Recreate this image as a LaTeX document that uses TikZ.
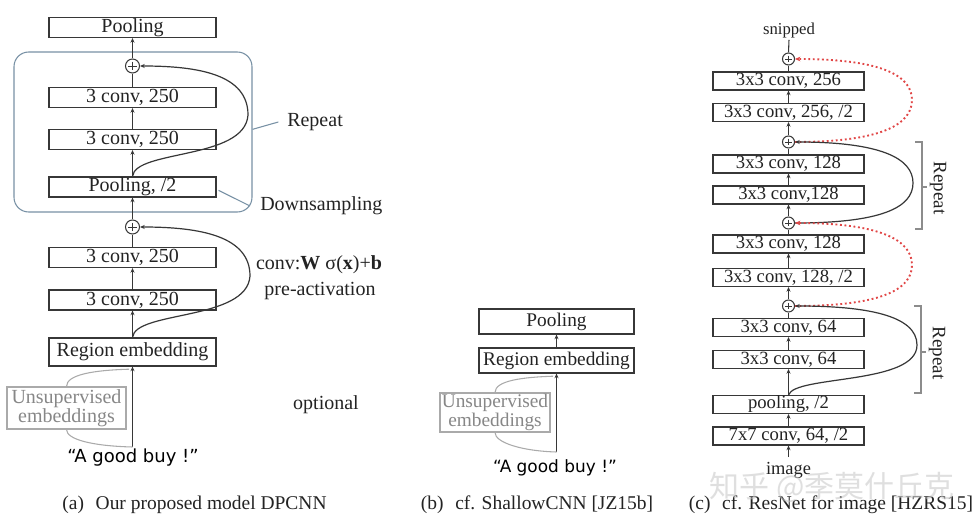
\documentclass[tikz,border=0pt]{standalone}
\usepackage{fontspec}
\setmainfont{Liberation Serif}
\newfontfamily\comicf{DejaVu Sans}
\newfontfamily\cjkf{Noto Sans CJK SC}
\usetikzlibrary{arrows.meta}
\definecolor{boxc}{RGB}{55,55,55}
\definecolor{txtc}{RGB}{35,35,35}
\definecolor{blueg}{RGB}{120,145,165}
\definecolor{grayt}{RGB}{135,135,135}
\definecolor{grayb}{RGB}{170,170,170}
\definecolor{redd}{RGB}{225,70,70}
\definecolor{brkc}{RGB}{140,140,140}
\tikzset{
  lay/.style={draw=boxc, line width=0.8pt, inner sep=0pt, text=txtc},
  la/.style={lay, minimum width=125.25pt, minimum height=15pt, font=\fontsize{15pt}{18pt}\selectfont},
  lb/.style={lay, minimum width=116.25pt, minimum height=18.75pt, font=\fontsize{14.5pt}{17pt}\selectfont},
  lc/.style={lay, minimum width=113.25pt, minimum height=13.5pt, font=\fontsize{14pt}{16pt}\selectfont},
  plusnode/.style={circle, draw=boxc, line width=0.8pt, inner sep=0pt, fill=white,
    path picture={\draw[boxc, line width=0.7pt]
      ([yshift=-2pt]path picture bounding box.north) -- ([yshift=2pt]path picture bounding box.south)
      ([xshift=2pt]path picture bounding box.west) -- ([xshift=-2pt]path picture bounding box.east);}},
  plusA/.style={plusnode, minimum size=10.5pt},
  plusC/.style={plusnode, minimum size=9pt},
  arr/.style={-{Stealth[length=3.5pt,width=3pt]}, draw=boxc, line width=0.8pt},
  ln/.style={draw=boxc, line width=0.8pt},
  skip/.style={arr, line width=0.9pt},
  reds/.style={-{Stealth[length=4pt,width=3.5pt]}, draw=redd, dotted, line width=1.4pt},
  gline/.style={draw=grayb, line width=0.8pt},
  bline/.style={draw=blueg, line width=0.8pt},
  brk/.style={draw=brkc, line width=0.8pt},
  txt/.style={inner sep=0pt, text=txtc, font=\fontsize{15pt}{18pt}\selectfont},
  ubox/.style={draw=grayb, line width=0.8pt, text=grayt, align=center, inner sep=0pt},
  comic/.style={inner sep=0pt, text=black, font=\comicf\fontsize{13.5pt}{16pt}\selectfont},
  captext/.style={inner sep=0pt, text=txtc, font=\fontsize{14.6pt}{17pt}\selectfont},
}
\begin{document}
\begin{tikzpicture}[x=0.75pt,y=-0.75pt]
\useasboundingbox (0,0) rectangle (977,527);
\fill[white] (0,0) rectangle (977,527);

% ---------------- Panel (a) ----------------
\node[draw=blueg, line width=0.8pt, rounded corners=11pt, minimum width=178.5pt, minimum height=120pt] (arep) at (133,132) {};
\node[la] (apool) at (132.5,27.5) {Pooling};
\node[plusA] (ap1) at (132.5,66) {};
\node[la] (ac1) at (132.5,97.5) {3 conv, 250};
\node[la] (ac2) at (132.5,139.5) {3 conv, 250};
\node[la] (apool2) at (132.5,187) {Pooling, /2};
\node[plusA] (ap2) at (132.5,227) {};
\node[la] (ac3) at (132.5,257.5) {3 conv, 250};
\node[la] (ac4) at (132.5,300) {3 conv, 250};
\node[la, minimum height=21pt] (areg) at (132.5,352) {Region embedding};

\draw[arr] (ap1.north) -- (apool.south);
\draw[ln] (ac1.north) -- (ap1.south);
\draw[arr] (ac2.north) -- (ac1.south);
\draw[arr] (apool2.north) -- (ac2.south);
\draw[arr] (ap2.north) -- (apool2.south);
\draw[ln] (ac3.north) -- (ap2.south);
\draw[arr] (ac4.north) -- (ac3.south);
\draw[arr] (areg.north) -- (ac4.south);

\coordinate (ak1) at (248,115);
\coordinate (ak2) at (250,276);
\draw[skip] (apool2.north) .. controls +(2.5,-27) and +(-3,45) .. (ak1) .. controls +(0,-40) and +(60,0) .. (ap1.east);
\draw[skip] (areg.north) .. controls +(2.5,-27) and +(-3,45) .. (ak2) .. controls +(0,-40) and +(60,0) .. (ap2.east);

\node[txt, anchor=west] (arepl) at (287,122) {Repeat};
\draw[bline] ([yshift=2pt]arep.east) -- ([xshift=-6.5pt]arepl.west);
\node[txt, anchor=west] (adown) at (260,206) {Downsampling};
\draw[bline] ([xshift=1.5pt,yshift=-2.5pt]apool2.east) -- ([xshift=-7.5pt]adown.west);

\node[txt] (aconv) at (319,265) {conv:\textbf{W} σ(\textbf{x})+\textbf{b}};
\node[txt] (apre) at (320,291) {pre-activation};
\node[txt] (aopt) at (326,405) {optional};

\node[ubox, minimum width=89.25pt, minimum height=31.5pt, font=\fontsize{15pt}{12.75pt}\selectfont] (aun) at (66.5,408) {Unsupervised\\embeddings};
\node[comic] (atext) at (133,458) {“A good buy !”};
\coordinate (abot) at (132.5,447);
\draw[arr] (abot) -- (areg.south);
\draw[gline] (abot) .. controls +(-40,-1) and +(0,10) .. (aun.south);
\draw[gline] (aun.north) .. controls +(0,-12) and +(-35,1) .. ([xshift=-2.5pt,yshift=-2pt]areg.south);

\node[captext] (capa) at (194.5,505) {(a)\hspace{0.6em}Our proposed model DPCNN};

% ---------------- Panel (b) ----------------
\node[lb] (bpool) at (556.5,321.5) {Pooling};
\node[lb] (breg) at (556.5,360.5) {Region embedding};
\draw[arr] (breg.north) -- (bpool.south);
\node[ubox, minimum width=82.5pt, minimum height=29.25pt, font=\fontsize{14.5pt}{12.75pt}\selectfont] (bun) at (495,412.5) {Unsupervised\\embeddings};
\node[comic, font=\comicf\fontsize{12.7pt}{15pt}\selectfont] (btext) at (555,468) {“A good buy !”};
\coordinate (bbot) at (556.5,452);
\draw[arr] (bbot) -- (breg.south);
\draw[gline] (bbot) .. controls +(-35,-1) and +(0,10) .. (bun.south);
\draw[gline] (bun.north) .. controls +(0,-12) and +(-30,1) .. ([xshift=-2.5pt,yshift=-2pt]breg.south);

\node[captext] (capb) at (537,505) {(b)\hspace{0.6em}cf. ShallowCNN [JZ15b]};

% ---------------- Panel (c) ----------------
\node[txt, font=\fontsize{12.5pt}{15pt}\selectfont, inner sep=1.5pt] (csnip) at (789,30) {snipped};
\node[plusC] (cp1) at (788.5,59) {};
\node[lc] (c256) at (788.5,81) {3x3 conv, 256};
\node[lc] (c256b) at (788.5,112.5) {3x3 conv, 256, /2};
\node[plusC] (cp2) at (788.5,142) {};
\node[lc] (c128a) at (788.5,164) {3x3 conv, 128};
\node[lc] (c128b) at (788.5,195) {3x3 conv,128};
\node[plusC] (cp3) at (788.5,223) {};
\node[lc] (c128c) at (788.5,244) {3x3 conv, 128};
\node[lc] (c128d) at (788.5,277.5) {3x3 conv, 128, /2};
\node[plusC] (cp4) at (788.5,306) {};
\node[lc] (c64a) at (788.5,327.5) {3x3 conv, 64};
\node[lc] (c64b) at (788.5,359.5) {3x3 conv, 64};
\node[lc] (cpool) at (788.5,404.5) {pooling, /2};
\node[lc] (c77) at (788.5,436) {7x7 conv, 64, /2};
\node[txt, font=\fontsize{13.8pt}{16pt}\selectfont] (cimg) at (788.5,470) {image};
\coordinate (cbot) at (788.5,457);

\draw[ln] (cp1.north) -- (csnip.south);
\draw[ln] (c256.north) -- (cp1.south);
\draw[arr] (c256b.north) -- (c256.south);
\draw[arr] (cp2.north) -- (c256b.south);
\draw[ln] (c128a.north) -- (cp2.south);
\draw[arr] (c128b.north) -- (c128a.south);
\draw[arr] (cp3.north) -- (c128b.south);
\draw[ln] (c128c.north) -- (cp3.south);
\draw[arr] (c128d.north) -- (c128c.south);
\draw[arr] (cp4.north) -- (c128d.south);
\draw[ln] (c64a.north) -- (cp4.south);
\draw[arr] (c64b.north) -- (c64a.south);
\draw[arr] (cpool.north) -- (c64b.south);
\draw[arr] (c77.north) -- (cpool.south);
\draw[arr] (cbot) -- (c77.south);

\coordinate (ck1) at (912,100);
\coordinate (ck2) at (913,183);
\coordinate (ck3) at (912,265);
\coordinate (ck4) at (917,345);
\draw[reds] (cp2.east) .. controls +(85,0) and +(0,25) .. (ck1) .. controls +(0,-25) and +(85,0) .. (cp1.east);
\draw[skip] (cp3.east) .. controls +(85,0) and +(0,25) .. (ck2) .. controls +(0,-25) and +(85,0) .. (cp2.east);
\draw[reds] (cp4.east) .. controls +(85,0) and +(0,25) .. (ck3) .. controls +(0,-25) and +(85,0) .. (cp3.east);
\draw[skip] (cpool.north) .. controls +(6.5,-20) and +(0,40) .. (ck4) .. controls +(0,-30) and +(70,0) .. (cp4.east);

\draw[brk] (915,142) -- (922,142) -- (922,229) -- (915,229);
\draw[brk] (922,187) -- (927,187);
\node[txt, rotate=-90, font=\fontsize{14.25pt}{16pt}\selectfont] (crep1) at (938,188) {Repeat};
\draw[brk] (914,306) -- (921,306) -- (921,393) -- (914,393);
\draw[brk] (921,352) -- (926,352);
\node[txt, rotate=-90, font=\fontsize{14.25pt}{16pt}\selectfont] (crep2) at (937,353) {Repeat};

\node[captext] (capc) at (831,505) {(c)\hspace{0.6em}cf. ResNet for image [HZRS15]};

\node[inner sep=0pt, text=gray!45, opacity=0.55, font=\cjkf\fontsize{22.5pt}{24pt}\selectfont] (wm) at (832,487) {知乎 @季莫什丘克};
\end{tikzpicture}
\end{document}
